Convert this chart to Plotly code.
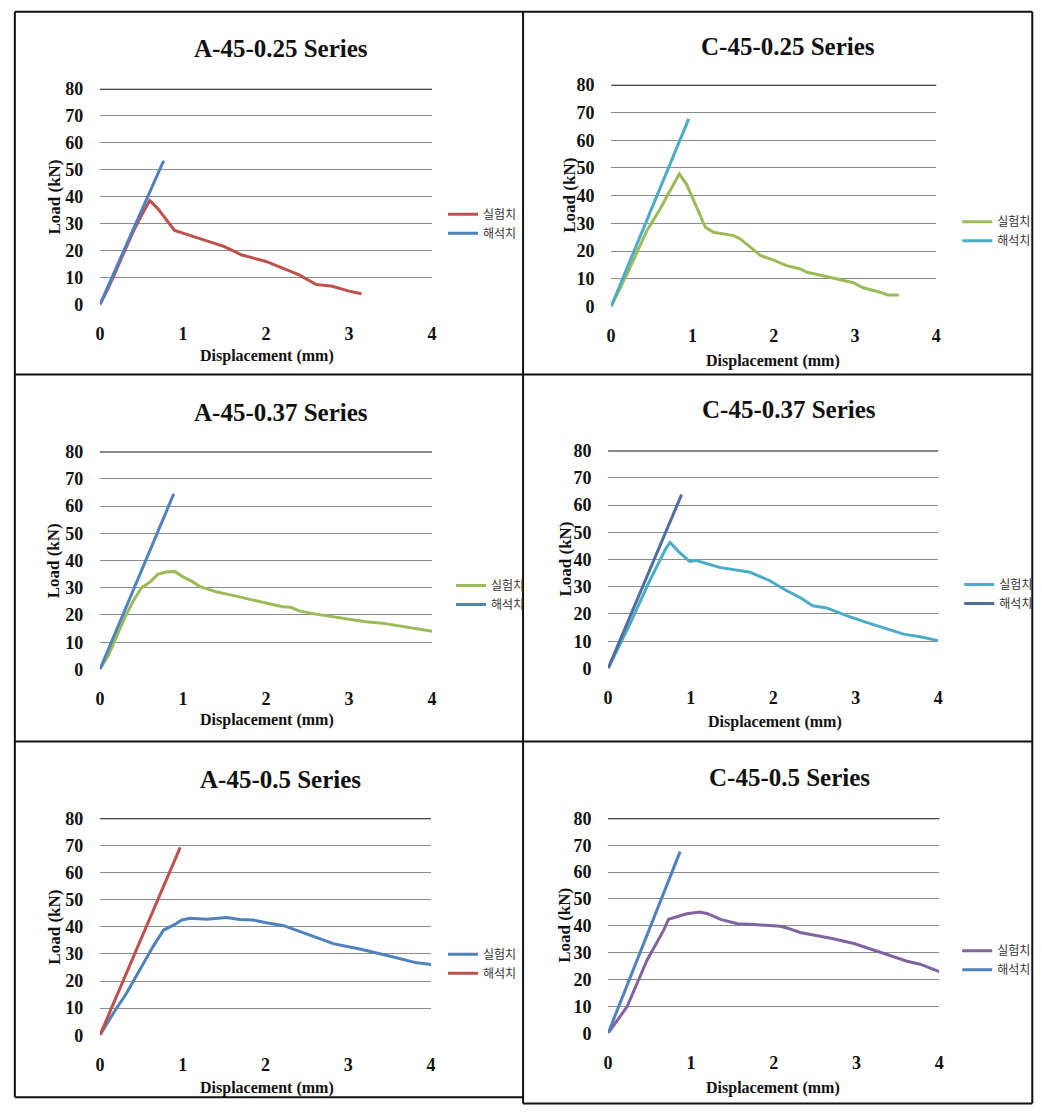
import plotly.graph_objects as go

W, H = 1042, 1114
# empirical correction between page pixels and photographed pixels
SX, CX = 0.990, 5.15
SY, CY = 0.9826, 9.2

# ---------------- data ----------------
titles = ["A-45-0.25 Series", "C-45-0.25 Series", "A-45-0.37 Series",
          "C-45-0.37 Series", "A-45-0.5 Series", "C-45-0.5 Series"]
legend_names = ["실험치", "해석치"]
x_ticks = [0, 1, 2, 3, 4]
y_ticks = [0, 10, 20, 30, 40, 50, 60, 70, 80]

# A-45-0.25
a025_exp_x = [0, 0.1, 0.2, 0.3, 0.4, 0.5, 0.6, 0.7, 0.8, 0.9, 1.0, 1.2, 1.4, 1.5, 1.7, 2.0, 2.2, 2.4, 2.6, 2.8, 3.0, 3.15]
a025_exp_y = [0, 6, 13, 20, 27, 33, 38.6, 35.5, 31.5, 27.5, 26.5, 24.5, 22.5, 21.5, 18.5, 16, 13.5, 11, 7.5, 6.8, 5, 4]
a025_ana_x = [0, 0.76, 0.78]
a025_ana_y = [0, 52.8, 53]

# C-45-0.25
c025_exp_x = [0, 0.2, 0.44, 0.6, 0.69, 0.84, 0.93, 1.02, 1.16, 1.26, 1.51, 1.59, 1.84, 2.0, 2.16, 2.33, 2.41, 2.66, 2.78, 2.98, 3.1, 3.31, 3.4, 3.54]
c025_exp_y = [0, 12, 27.4, 35, 40, 47.9, 44, 38, 28.6, 26.8, 25.6, 24.4, 18.4, 16.8, 14.8, 13.6, 12.4, 10.8, 10, 8.6, 6.8, 5.2, 4.2, 4.2]
c025_ana_x = [0, 0.955]
c025_ana_y = [0, 67.7]

# A-45-0.37
a037_exp_x = [0, 0.1, 0.2, 0.3, 0.4, 0.5, 0.6, 0.7, 0.8, 0.9, 1.0, 1.1, 1.2, 1.4, 1.6, 1.8, 2.0, 2.2, 2.3, 2.4, 2.6, 2.8, 3.0, 3.2, 3.4, 3.6, 3.8, 4.0]
a037_exp_y = [0, 5, 12, 19, 25, 30, 32, 35, 35.8, 36, 34, 32.5, 30.5, 28.5, 27.2, 25.8, 24.5, 23, 22.8, 21.5, 20.3, 19.3, 18.3, 17.5, 17, 16, 15, 14]
a037_ana_x = [0, 0.89]
a037_ana_y = [0, 64.5]

# C-45-0.37
c037_exp_x = [0, 0.26, 0.5, 0.6, 0.7, 0.75, 0.85, 0.99, 1.07, 1.35, 1.52, 1.72, 1.96, 2.16, 2.32, 2.48, 2.65, 2.89, 3.13, 3.37, 3.58, 3.78, 4.0]
c037_exp_y = [0, 16, 32, 38, 44, 46.3, 43, 39.3, 39.6, 37.1, 36.3, 35.3, 32.2, 28.6, 26.1, 23, 22.2, 19.4, 16.9, 14.5, 12.6, 11.6, 10.2]
c037_ana_x = [0, 0.89]
c037_ana_y = [0, 63.8]

# A-45-0.5
a05_exp_x = [0, 0.16, 0.32, 0.48, 0.64, 0.77, 0.89, 0.99, 1.09, 1.29, 1.53, 1.69, 1.85, 2.01, 2.22, 2.42, 2.62, 2.82, 2.94, 3.14, 3.42, 3.63, 3.83, 4.0]
a05_exp_y = [0, 8, 15.4, 24, 32.6, 38.8, 40.6, 42.5, 43.1, 42.8, 43.4, 42.7, 42.5, 41.5, 40.4, 38.2, 36.1, 33.8, 33, 31.8, 29.8, 28.1, 26.7, 26.1]
a05_ana_x = [0, 0.97]
a05_ana_y = [0, 69.3]

# C-45-0.5
c05_exp_x = [0, 0.23, 0.47, 0.67, 0.73, 0.83, 0.95, 1.11, 1.2, 1.36, 1.56, 1.76, 2.08, 2.16, 2.32, 2.56, 2.72, 2.97, 3.21, 3.37, 3.61, 3.77, 4.0]
c05_exp_y = [0, 9.9, 27.2, 38.3, 42.4, 43.3, 44.5, 45.1, 44.5, 42.4, 40.8, 40.5, 39.8, 39.2, 37.5, 36.1, 35.2, 33.4, 31.1, 29.3, 26.8, 25.7, 22.9]
c05_ana_x = [0, 0.87]
c05_ana_y = [0, 67.6]

# ---------------- styles / layout (target pixels) ----------------
RED, BLUE, GREEN, PURPLE, AQUA, SLATE = "#C0504D", "#4F81BD", "#9BBB59", "#8064A2", "#4BACC6", "#4F6E9E"

panels = [
    dict(exp=(a025_exp_x, a025_exp_y), ana=(a025_ana_x, a025_ana_y), ce=RED, ca=BLUE,
         plot=(100, 432, 88, 304), title=(281, 48), ylab=55, xlab=(267, 355), leg=(447, 216, 230)),
    dict(exp=(c025_exp_x, c025_exp_y), ana=(c025_ana_x, c025_ana_y), ce=GREEN, ca=AQUA,
         plot=(611, 936, 84, 306), title=(788, 46), ylab=570, xlab=(773, 360), leg=(961, 218, 243)),
    dict(exp=(a037_exp_x, a037_exp_y), ana=(a037_ana_x, a037_ana_y), ce=GREEN, ca=BLUE,
         plot=(100, 432, 451, 669), title=(281, 412), ylab=54, xlab=(267, 720), leg=(455, 586, 603)),
    dict(exp=(c037_exp_x, c037_exp_y), ana=(c037_ana_x, c037_ana_y), ce=AQUA, ca=SLATE,
         plot=(608, 938, 450, 668), title=(789, 409), ylab=565, xlab=(775, 722), leg=(963, 581, 606)),
    dict(exp=(a05_exp_x, a05_exp_y), ana=(a05_ana_x, a05_ana_y), ce=BLUE, ca=RED,
         plot=(100, 431, 818, 1035), title=(281, 779), ylab=55, xlab=(267, 1088), leg=(447, 955, 972)),
    dict(exp=(c05_exp_x, c05_exp_y), ana=(c05_ana_x, c05_ana_y), ce=PURPLE, ca=BLUE,
         plot=(608, 939, 818, 1033), title=(789, 777), ylab=565, xlab=(773, 1088), leg=(961, 947, 973)),
]

def fx(x):
    return min(max((x - CX) / SX, 0.5), W - 0.5)

def fy(y):
    return min(max((y - CY) / SY, 0.5), H - 0.5)

def px(x):
    return fx(x) / W

def py(y):
    return 1 - fy(y) / H

SERIF = "Liberation Serif"
KFONT = "Noto Sans CJK KR"

fig = go.Figure()
layout = dict(width=W, height=H, margin=dict(l=0, r=0, t=0, b=0),
              paper_bgcolor="white", plot_bgcolor="white", showlegend=True)
annotations = []
shapes = []

for i, p in enumerate(panels):
    n = i + 1
    sfx = "" if n == 1 else str(n)
    xa, ya = "x" + sfx, "y" + sfx
    lg = "legend" + sfx
    x0, x1, y0, y1 = p["plot"]
    fig.add_trace(go.Scatter(x=p["exp"][0], y=p["exp"][1], mode="lines", name=legend_names[0],
                             line=dict(color=p["ce"], width=3), xaxis=xa, yaxis=ya, legend=lg))
    fig.add_trace(go.Scatter(x=p["ana"][0], y=p["ana"][1], mode="lines", name=legend_names[1],
                             line=dict(color=p["ca"], width=3), xaxis=xa, yaxis=ya, legend=lg))
    tf = dict(family=SERIF, size=18, color="#111", weight="bold")
    layout["xaxis" + sfx] = dict(domain=[px(x0), px(x1)], range=[0, 4], tickvals=x_ticks,
                                 showgrid=False, zeroline=False, showline=False,
                                 ticks="outside", ticklen=13, tickcolor="rgba(0,0,0,0)",
                                 tickfont=tf, anchor=ya, fixedrange=True)
    layout["yaxis" + sfx] = dict(domain=[py(y1), py(y0)], range=[0, 80], tickvals=y_ticks,
                                 showgrid=True, gridcolor="#8C8C8C", gridwidth=1.3,
                                 zeroline=False, showline=False,
                                 ticks="outside", ticklen=12, tickcolor="rgba(0,0,0,0)",
                                 tickfont=tf, anchor=xa, fixedrange=True)
    shapes.append(dict(type="line", xref=xa + " domain", yref=ya, x0=0, x1=1, y0=80, y1=80,
                       line=dict(color="#111", width=2), layer="above"))
    annotations.append(dict(text="<b>" + titles[i] + "</b>", x=px(p["title"][0]), y=py(p["title"][1]),
                            xref="paper", yref="paper", showarrow=False, xanchor="center", yanchor="middle",
                            font=dict(family=SERIF, size=25, color="#111")))
    annotations.append(dict(text="<b>Load (kN)</b>", x=px(p["ylab"]), y=py((y0 + y1) / 2),
                            xref="paper", yref="paper", showarrow=False, textangle=-90,
                            xanchor="center", yanchor="middle",
                            font=dict(family=SERIF, size=17, color="#111")))
    annotations.append(dict(text="<b>Displacement (mm)</b>", x=px(p["xlab"][0]), y=py(p["xlab"][1]),
                            xref="paper", yref="paper", showarrow=False, xanchor="center", yanchor="middle",
                            font=dict(family=SERIF, size=16, color="#111")))
    lx, ly1, ly2 = p["leg"]
    layout[lg] = dict(x=px(lx - 4), y=py((ly1 + ly2) / 2), xanchor="left", yanchor="middle",
                      xref="paper", yref="paper", bgcolor="rgba(0,0,0,0)",
                      font=dict(family=KFONT, size=12, color="#333"),
                      tracegroupgap=0, itemwidth=30, traceorder="normal")

# panel borders
bl = dict(color="#111", width=2)
for (a, b, c, d) in [(15, 11, 1032, 11), (15, 11, 15, 1097), (15, 1097, 523, 1097),
                     (523, 11, 523, 1105), (523, 1105, 1032, 1105), (1032, 11, 1032, 1105),
                     (15, 374, 1032, 374), (15, 741, 1032, 741)]:
    shapes.append(dict(type="line", xref="paper", yref="paper", x0=px(a), y0=py(b), x1=px(c), y1=py(d),
                       line=bl))

layout["annotations"] = annotations
layout["shapes"] = shapes
fig.update_layout(**layout)
fig.write_html("out.html", config={"displayModeBar": False},
               post_script="document.body.style.margin='0';document.body.style.overflow='hidden';")
